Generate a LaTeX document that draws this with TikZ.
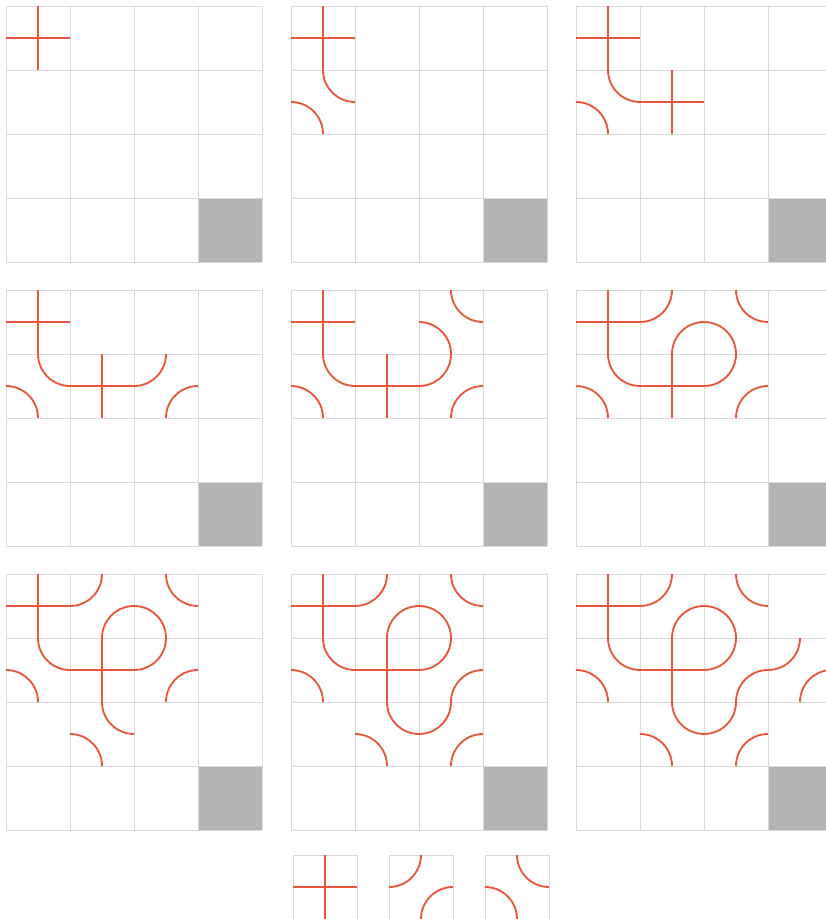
\documentclass[tikz,border=0pt]{standalone}
\definecolor{TrackRed}{HTML}{E9573A}
\definecolor{GridGrey}{HTML}{D9D9D9}
\definecolor{BlockGrey}{HTML}{B3B3B5}

% tiles, drawn at column #1, row #2 of the current board
\newcommand{\tilecross}[2]{%
  \draw[track] ({#1},{-#2-0.5}) -- ++(1,0);
  \draw[track] ({#1+0.5},{-#2}) -- ++(0,-1);}
\newcommand{\tilenw}[2]{%
  \draw[track] ({#1},{-#2-0.5}) arc[start angle=-90,end angle=0,radius=0.5];
  \draw[track] ({#1+1},{-#2-0.5}) arc[start angle=90,end angle=180,radius=0.5];}
\newcommand{\tilene}[2]{%
  \draw[track] ({#1+0.5},{-#2}) arc[start angle=180,end angle=270,radius=0.5];
  \draw[track] ({#1},{-#2-0.5}) arc[start angle=90,end angle=0,radius=0.5];}
\newcommand{\board}{%
  \fill[blocked] (3,-4) rectangle (4,-3);
  \draw[cellgrid,step=1.6cm] (0,-4) grid (4,0);}

\begin{document}
\begin{tikzpicture}[
  x=1.6cm,y=1.6cm,
  cellgrid/.style={draw=GridGrey,line width=0.5pt},
  blocked/.style={fill=BlockGrey},
  track/.style={draw=TrackRed,line width=1.3pt}
]
\clip (0,0) rectangle (20.65cm,22.975cm);
\fill[white] (0,0) rectangle (20.65cm,22.975cm);

% first row of boards
\begin{scope}[shift={(0.15cm,22.825cm)}]
\board
\tilecross{0}{0}
\end{scope}
\begin{scope}[shift={(7.275cm,22.825cm)}]
\board
\tilecross{0}{0} \tilene{0}{1}
\end{scope}
\begin{scope}[shift={(14.4cm,22.825cm)}]
\board
\tilecross{0}{0} \tilene{0}{1} \tilecross{1}{1}
\end{scope}

% second row
\begin{scope}[shift={(0.15cm,15.725cm)}]
\board
\tilecross{0}{0} \tilene{0}{1} \tilecross{1}{1} \tilenw{2}{1}
\end{scope}
\begin{scope}[shift={(7.275cm,15.725cm)}]
\board
\tilecross{0}{0} \tilene{0}{1} \tilecross{1}{1} \tilenw{2}{1}
\tilene{2}{0}
\end{scope}
\begin{scope}[shift={(14.4cm,15.725cm)}]
\board
\tilecross{0}{0} \tilene{0}{1} \tilecross{1}{1} \tilenw{2}{1}
\tilene{2}{0} \tilenw{1}{0}
\end{scope}

% third row
\begin{scope}[shift={(0.15cm,8.625cm)}]
\board
\tilecross{0}{0} \tilene{0}{1} \tilecross{1}{1} \tilenw{2}{1}
\tilene{2}{0} \tilenw{1}{0} \tilene{1}{2}
\end{scope}
\begin{scope}[shift={(7.275cm,8.625cm)}]
\board
\tilecross{0}{0} \tilene{0}{1} \tilecross{1}{1} \tilenw{2}{1}
\tilene{2}{0} \tilenw{1}{0} \tilene{1}{2} \tilenw{2}{2}
\end{scope}
\begin{scope}[shift={(14.4cm,8.625cm)}]
\board
\tilecross{0}{0} \tilene{0}{1} \tilecross{1}{1} \tilenw{2}{1}
\tilene{2}{0} \tilenw{1}{0} \tilene{1}{2} \tilenw{2}{2}
\tilenw{3}{1}
\end{scope}

% the three tiles
\begin{scope}[shift={(7.325cm,1.6cm)}]
\draw[cellgrid] (0,-1) rectangle (1,0);
\tilecross{0}{0}
\end{scope}
\begin{scope}[shift={(9.725cm,1.6cm)}]
\draw[cellgrid] (0,-1) rectangle (1,0);
\tilenw{0}{0}
\end{scope}
\begin{scope}[shift={(12.125cm,1.6cm)}]
\draw[cellgrid] (0,-1) rectangle (1,0);
\tilene{0}{0}
\end{scope}
\end{tikzpicture}
\end{document}
